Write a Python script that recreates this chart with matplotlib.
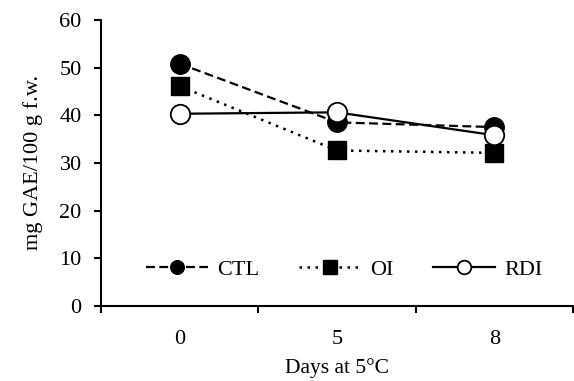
import matplotlib.pyplot as plt
from matplotlib.ticker import FixedLocator

plt.rcParams['font.family'] = ['Liberation Serif', 'DejaVu Serif']

days = ['0', '5', '8']
ctl = [50.8, 38.5, 37.5]
oi = [46.1, 32.6, 32.1]
rdi = [40.3, 40.6, 35.8]

fig = plt.figure(figsize=(5.74, 3.81), dpi=100)
ax = fig.add_axes([0.176, 0.197, 0.822, 0.751])
x = list(range(len(days)))

ax.plot(x, ctl, ls=(0, (4, 2)), color='black', lw=1.6, marker='o', ms=14,
        mfc='black', mec='black', label='CTL')
ax.plot(x, oi, ls=(0, (1, 2.2)), color='black', lw=1.8, marker='s', ms=13.5,
        mfc='black', mec='black', label='OI')
ax.plot(x, rdi, ls='-', color='black', lw=1.6, marker='o', ms=14,
        mfc='white', mec='black', mew=1.3, label='RDI')

ax.set_xlim(-0.5, 2.5)
ax.set_ylim(0, 60)
ax.set_yticks(range(0, 61, 10))
ax.set_xticks(x)
ax.set_xticklabels(days)
ax.xaxis.set_minor_locator(FixedLocator([-0.5, 0.5, 1.5, 2.5]))
ax.tick_params(axis='x', which='major', length=0, pad=17, labelsize=16)
ax.tick_params(axis='x', which='minor', length=5, width=1.5, direction='out')
ax.tick_params(axis='y', length=5, width=1.5, direction='out', labelsize=16, pad=9)

for s in ['top', 'right']:
    ax.spines[s].set_visible(False)
for s in ['left', 'bottom']:
    ax.spines[s].set_linewidth(1.5)

ax.set_xlabel('Days at 5°C', fontsize=15.5, labelpad=7)
ax.set_ylabel('mg GAE/100 g f.w.', fontsize=16, labelpad=12)

ax.legend(loc='lower center', bbox_to_anchor=(0.515, 0.02), ncol=3, frameon=False,
          fontsize=16, markerscale=0.7, handlelength=2.8, columnspacing=1.8,
          handletextpad=0.4)

plt.savefig('out.png', dpi=100)
